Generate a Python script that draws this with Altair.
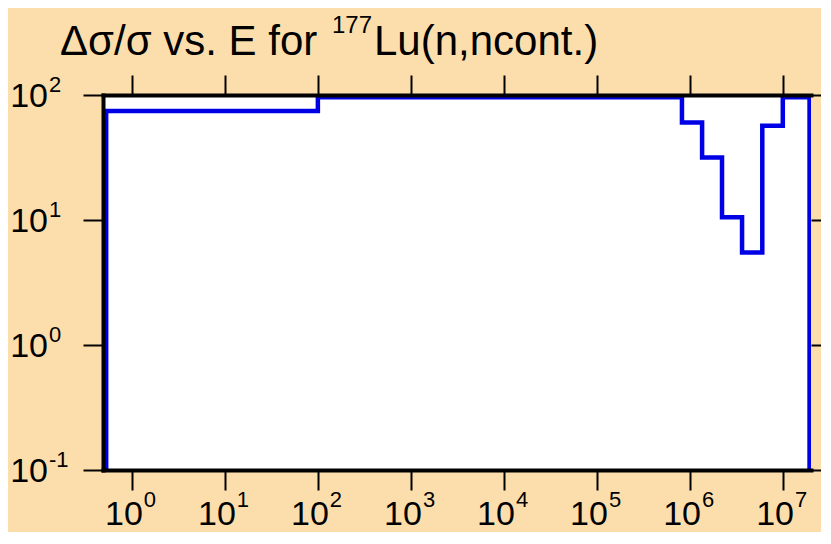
import altair as alt
import pandas as pd

# ---- data ----
energy_edges = [0.53, 1.0e2, 8.2e5, 1.35e6, 2.21e6, 3.63e6, 5.99e6, 9.95e6, 1.93e7]   # eV
rel_unc = [74.5, 96, 60.3, 31.6, 10.5, 5.5, 56.7, 96]                                  # %
y_floor = 0.1

x_exponents = [0, 1, 2, 3, 4, 5, 6, 7]
y_exponents = [-1, 0, 1, 2]
tick_base = "10"

title_main = "Δσ/σ vs. E for"
title_sup = "177"
title_rest = "Lu(n,ncont.)"

# ---- layout / style ----
W, H = 708, 375
FONT = "Liberation Sans"
BLUE = "#0000E6"
BG = "#FCDEAC"

xs = [energy_edges[0]]
ys = [y_floor]
for i, v in enumerate(rel_unc):
    xs += [energy_edges[i], energy_edges[i + 1]]
    ys += [v, v]
xs.append(energy_edges[-1])
ys.append(y_floor)
step_df = pd.DataFrame({"E": xs, "u": ys, "order": list(range(len(xs)))})

xlab_df = pd.DataFrame({"E": [10.0 ** k for k in x_exponents],
                        "base": [tick_base] * len(x_exponents),
                        "exp": [str(k) for k in x_exponents]})
ylab_df = pd.DataFrame({"u": [10.0 ** k for k in y_exponents],
                        "base": [tick_base] * len(y_exponents),
                        "exp": [str(k) for k in y_exponents]})

xscale = alt.Scale(type="log", domain=[0.49, 2.0e7], nice=False)
yscale = alt.Scale(type="log", domain=[0.1, 100], nice=False)

common_axis = dict(labels=False, grid=False, tickColor="black", tickWidth=2,
                   tickSize=20, domainColor="black", domainWidth=4,
                   domainCap="square", zindex=1)

x_bottom = alt.Axis(orient="bottom", values=[10.0 ** k for k in x_exponents], **common_axis)
x_top = alt.Axis(orient="top", values=[10.0 ** k for k in x_exponents], **common_axis)
y_left = alt.Axis(orient="left", values=[10.0 ** k for k in y_exponents], **common_axis)
y_right = alt.Axis(orient="right", values=[10.0 ** k for k in y_exponents], labels=False,
                   grid=False, tickColor="black", tickWidth=2, tickSize=20,
                   domain=False, zindex=1)

line = alt.Chart(step_df).mark_line(color=BLUE, strokeWidth=4.5, clip=True).encode(
    x=alt.X("E:Q", scale=xscale, axis=x_bottom, title=None),
    y=alt.Y("u:Q", scale=yscale, axis=y_left, title=None),
    order="order:Q",
)

xlab_base = alt.Chart(xlab_df).mark_text(
    align="right", baseline="alphabetic", fontSize=34, font=FONT, color="black", dx=11
).encode(
    x=alt.X("E:Q", scale=xscale, axis=x_top, title=None),
    y=alt.value(H + 55),
    text="base:N",
)
xlab_exp = alt.Chart(xlab_df).mark_text(
    align="left", baseline="alphabetic", fontSize=22, font=FONT, color="black", dx=12
).encode(
    x=alt.X("E:Q", scale=xscale, axis=None),
    y=alt.value(H + 37),
    text="exp:N",
)

ylab_base = alt.Chart(ylab_df).mark_text(
    align="right", baseline="alphabetic", fontSize=34, font=FONT, color="black", dy=12
).encode(
    y=alt.Y("u:Q", scale=yscale, axis=y_right, title=None),
    x=alt.value(-55),
    text="base:N",
)
ylab_exp = alt.Chart(ylab_df).mark_text(
    align="left", baseline="alphabetic", fontSize=22, font=FONT, color="black", dy=-3
).encode(
    y=alt.Y("u:Q", scale=yscale, axis=None),
    x=alt.value(-54),
    text="exp:N",
)

t_main = alt.Chart(pd.DataFrame({"t": [title_main]})).mark_text(
    align="left", baseline="alphabetic", fontSize=42, font=FONT, color="black"
).encode(x=alt.value(-43), y=alt.value(-40), text="t:N")
t_sup = alt.Chart(pd.DataFrame({"t": [title_sup]})).mark_text(
    align="left", baseline="alphabetic", fontSize=24, font=FONT, color="black"
).encode(x=alt.value(229), y=alt.value(-62), text="t:N")
t_rest = alt.Chart(pd.DataFrame({"t": [title_rest]})).mark_text(
    align="left", baseline="alphabetic", fontSize=42, font=FONT, color="black"
).encode(x=alt.value(271), y=alt.value(-40), text="t:N")

chart = alt.layer(
    line, xlab_base, xlab_exp, ylab_base, ylab_exp, t_main, t_sup, t_rest
).resolve_axis(
    x="independent", y="independent"
).properties(
    width=W, height=H,
    autosize=alt.AutoSizeParams(type="none"),
    padding={"left": 95, "top": 87, "right": 10, "bottom": 62},
    background=BG,
).configure_view(
    fill="white", strokeWidth=0
)

chart.save("out.html", embed_options={"renderer": "svg", "actions": False})
